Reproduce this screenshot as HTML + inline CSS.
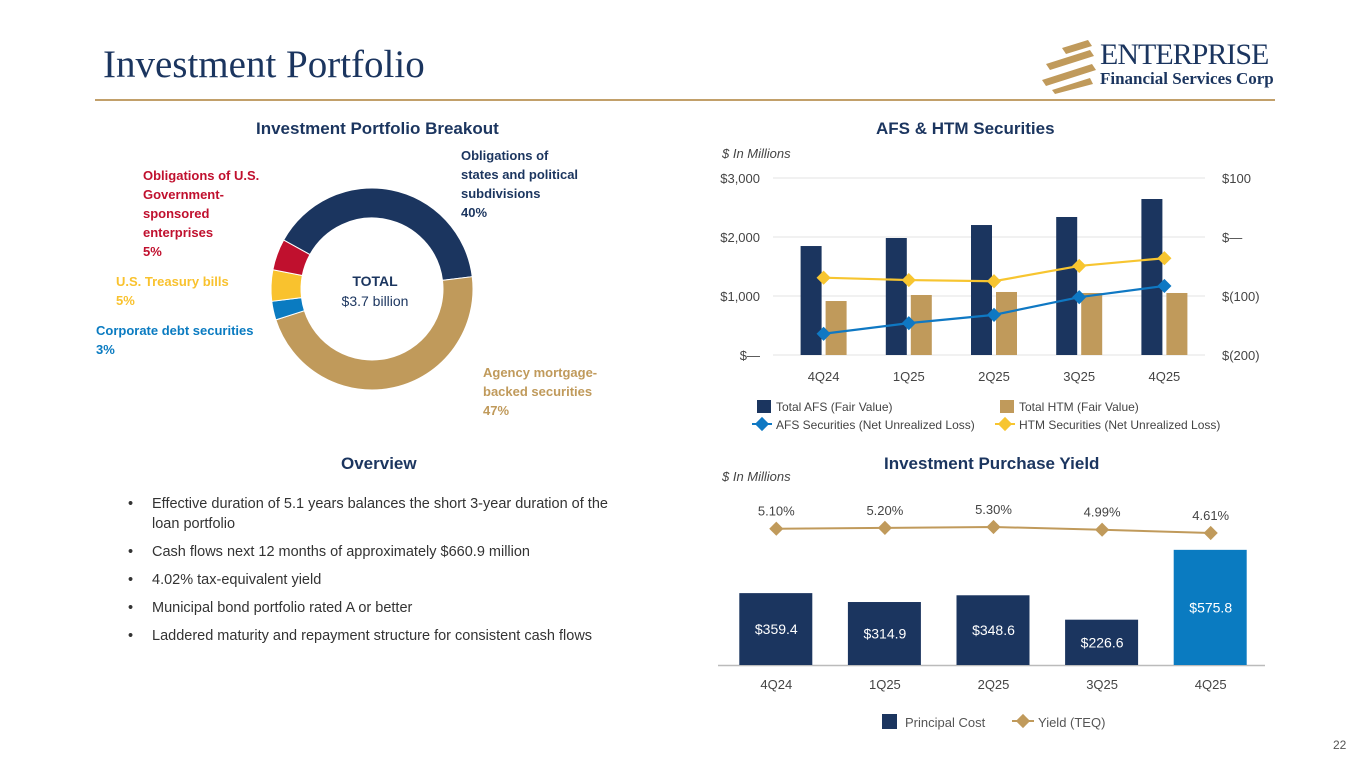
<!DOCTYPE html>
<html><head><meta charset="utf-8">
<style>
body{margin:0;width:1365px;height:768px;background:#fff;font-family:"Liberation Sans",sans-serif;overflow:hidden;position:relative}
.abs{position:absolute}
</style></head>
<body>
<div class="abs" style="left:103px;top:42px;font-family:'Liberation Serif',serif;font-size:39px;color:#1b355f">Investment Portfolio</div>
<div class="abs" style="left:95px;top:99px;width:1180px;height:2px;background:#c2a06a"></div>
<div class="abs" style="left:1040px;top:38px;width:240px;height:56px">
<svg width="60" height="56" style="position:absolute;left:0;top:0"><g fill="#c09a5b"><polygon points="22,10 48,2 52,8 26,16"/><polygon points="6,26 50,12 54,18 10,32"/><polygon points="2,42 52,26 56,32 6,48"/><polygon points="12,52 50,40 53,46 15,56"/></g></svg>
<div class="abs" style="left:60px;top:0;font-family:'Liberation Serif',serif;font-size:30px;color:#1b355f;letter-spacing:-1px">ENTERPRISE</div>
<div class="abs" style="left:60px;top:31px;font-family:'Liberation Serif',serif;font-size:17px;font-weight:bold;color:#1b355f">Financial Services Corp</div>
</div>

<div class="abs" style="left:256px;top:119px;font-size:17px;font-weight:bold;color:#1b355f">Investment Portfolio Breakout</div>
<div class="abs" style="left:876px;top:119px;font-size:17px;font-weight:bold;color:#1b355f">AFS &amp; HTM Securities</div>
<div class="abs" style="left:341px;top:454px;font-size:17px;font-weight:bold;color:#1b355f">Overview</div>
<div class="abs" style="left:884px;top:454px;font-size:17px;font-weight:bold;color:#1b355f">Investment Purchase Yield</div>

<svg id="donut" class="abs" style="left:0;top:130px" width="650" height="300"></svg>

<ul class="abs" style="left:128px;top:494px;width:505px;margin:0;padding:0;list-style:none;font-size:14.5px;color:#333;line-height:20px">
<li style="position:relative;padding-left:24px;margin-bottom:8px"><span style="position:absolute;left:0">•</span>Effective duration of 5.1 years balances the short 3-year duration of the<br>loan portfolio</li>
<li style="position:relative;padding-left:24px;margin-bottom:8px"><span style="position:absolute;left:0">•</span>Cash flows next 12 months of approximately $660.9 million</li>
<li style="position:relative;padding-left:24px;margin-bottom:8px"><span style="position:absolute;left:0">•</span>4.02% tax-equivalent yield</li>
<li style="position:relative;padding-left:24px;margin-bottom:8px"><span style="position:absolute;left:0">•</span>Municipal bond portfolio rated A or better</li>
<li style="position:relative;padding-left:24px;margin-bottom:8px;white-space:nowrap"><span style="position:absolute;left:0">•</span>Laddered maturity and repayment structure for consistent cash flows</li>
</ul>

<svg id="afs" class="abs" style="left:0;top:0" width="1365" height="768"></svg>
<div class="abs" style="left:1333px;top:738px;font-size:12px;color:#555">22</div>

<script>
const NS="http://www.w3.org/2000/svg";
function mk(p,tag,attrs,txt){const e=document.createElementNS(NS,tag);for(const k in attrs)e.setAttribute(k,attrs[k]);if(txt!=null)e.textContent=txt;p.appendChild(e);return e;}

// ---- Donut data ----
const donutLabels=["Obligations of states and political subdivisions","Agency mortgage-backed securities","Corporate debt securities","U.S. Treasury bills","Obligations of U.S. Government-sponsored enterprises"];
const donutValues=[40,47,3,5,5];
const donutColors=["#1b355f","#c09a5b","#0a7bc1","#f9c22e","#c0102e"];
const d=document.getElementById('donut');
{
 const cx=372,cy=159,R=101,r=71;let a=-61*Math.PI/180;const tot=donutValues.reduce((s,v)=>s+v,0);
 donutValues.forEach((v,i)=>{
  const a2=a+v/tot*2*Math.PI;const lg=(a2-a)>Math.PI?1:0;
  const p=(rr,ang)=>[cx+rr*Math.sin(ang),cy-rr*Math.cos(ang)];
  const [x1,y1]=p(R,a),[x2,y2]=p(R,a2),[x3,y3]=p(r,a2),[x4,y4]=p(r,a);
  const s=mk(d,'path',{d:`M${x1},${y1}A${R},${R} 0 ${lg} 1 ${x2},${y2}L${x3},${y3}A${r},${r} 0 ${lg} 0 ${x4},${y4}Z`,fill:donutColors[i],stroke:'#fff','stroke-width':1});
  
  
  a=a2;
 });
 const t1=mk(d,'text',{x:cx+3,y:cy-3,'text-anchor':'middle','font-size':14,'font-weight':'bold',fill:'#1b355f'},'TOTAL');
 
 const t2=mk(d,'text',{x:cx+3,y:cy+17,'text-anchor':'middle','font-size':14,fill:'#1b355f'},'$3.7 billion');
 
 const lab=[[461,30,["Obligations of","states and political","subdivisions","40%"],0],[483,247,["Agency mortgage-","backed securities","47%"],1],[96,205,["Corporate debt securities","3%"],2],[116,156,["U.S. Treasury bills","5%"],3],[143,50,["Obligations of U.S.","Government-","sponsored","enterprises","5%"],4]];
 lab.forEach(([x,y,lines,ci])=>{lines.forEach((ln,j)=>{const t=mk(d,'text',{x:x,y:y+j*19,'font-size':13,'font-weight':'bold',fill:donutColors[ci]},ln);});});
}

// ---- AFS & HTM data ----
const quarters=["4Q24","1Q25","2Q25","3Q25","4Q25"];
const afsFair=[1847,1983,2203,2339,2644];
const htmFair=[915,1017,1068,1051,1051];
const afsLoss=[-164,-146,-132,-102,-83];
const htmLoss=[-69,-73,-75,-49,-36];
const leftTicks=[0,1000,2000,3000];const leftTickLabels=["$—","$1,000","$2,000","$3,000"];
const rightTicks=[-200,-100,0,100];const rightTickLabels=["$(200)","$(100)","$—","$100"];
const svg=document.getElementById('afs');
{
 const top=178,bot=355,x0=781,step=85.2;
 const yL=v=>bot-v/3000*(bot-top);const yR=v=>bot-(v+200)/300*(bot-top);const xc=i=>x0+(i+0.5)*step;
 leftTicks.forEach((v,i)=>{const g=mk(svg,'line',{x1:773,x2:1205,y1:yL(v),y2:yL(v),stroke:'#e3e3e3','stroke-width':1});
  const t=mk(svg,'text',{x:760,y:yL(v)+5,'text-anchor':'end','font-size':13,fill:'#444'},leftTickLabels[i]);});
 rightTicks.forEach((v,i)=>{const t=mk(svg,'text',{x:1222,y:yR(v)+5,'font-size':13,fill:'#444'},rightTickLabels[i]);});
 const u=mk(svg,'text',{x:722,y:158,'font-size':13,'font-style':'italic',fill:'#444'},'$ In Millions');
 quarters.forEach((q,i)=>{
  const b1=mk(svg,'rect',{x:xc(i)-23,y:yL(afsFair[i]),width:21,height:bot-yL(afsFair[i]),fill:'#1b355f'});
  const b2=mk(svg,'rect',{x:xc(i)+2,y:yL(htmFair[i]),width:21,height:bot-yL(htmFair[i]),fill:'#c09a5b'});
  const t=mk(svg,'text',{x:xc(i),y:381,'text-anchor':'middle','font-size':13,fill:'#444'},q);
 });
 [[afsLoss,'#0f78c3','afs-loss'],[htmLoss,'#f7c530','htm-loss']].forEach(([arr,c,n])=>{
  const l=mk(svg,'polyline',{points:arr.map((v,i)=>xc(i)+','+yR(v)).join(' '),fill:'none',stroke:c,'stroke-width':2.2});
  arr.forEach((v,i)=>{const p=mk(svg,'rect',{x:-5,y:-5,width:10,height:10,fill:c,transform:`translate(${xc(i)},${yR(v)}) rotate(45)`});});
 });
 const leg=[[757,400,'rect','#1b355f','Total AFS (Fair Value)'],[1000,400,'rect','#c09a5b','Total HTM (Fair Value)'],[757,418,'line','#0f78c3','AFS Securities (Net Unrealized Loss)'],[1000,418,'line','#f7c530','HTM Securities (Net Unrealized Loss)']];
 leg.forEach(([x,y,k,c,txt])=>{
  if(k==='rect'){const r=mk(svg,'rect',{x:x,y:y,width:14,height:13,fill:c});}
  else{const l=mk(svg,'line',{x1:x-5,x2:x+15,y1:y+6,y2:y+6,stroke:c,'stroke-width':2});
   const p=mk(svg,'rect',{x:-5,y:-5,width:10,height:10,fill:c,transform:`translate(${x+5},${y+6}) rotate(45)`});}
  const t=mk(svg,'text',{x:x+19,y:y+11,'font-size':12,fill:'#444'},txt);
 });
}

// ---- Purchase yield data ----
const principal=[359.4,314.9,348.6,226.6,575.8];
const principalLabels=["$359.4","$314.9","$348.6","$226.6","$575.8"];
const yields=[5.10,5.20,5.30,4.99,4.61];
const yieldLabels=["5.10%","5.20%","5.30%","4.99%","4.61%"];
{
 const base=665,x0=722,step=108.6;const xc=i=>x0+(i+0.5)*step;
 const yB=v=>base-v*0.2;const yY=v=>527+(5.30-v)*8.7;
 const u=mk(svg,'text',{x:722,y:481,'font-size':13,'font-style':'italic',fill:'#444'},'$ In Millions');
 const ax=mk(svg,'line',{x1:718,x2:1265,y1:base+0.5,y2:base+0.5,stroke:'#bbb','stroke-width':1.5});
 quarters.forEach((q,i)=>{
  const c=i===4?'#0a7bc1':'#1b355f';
  const b=mk(svg,'rect',{x:xc(i)-37,y:yB(principal[i]),width:73,height:base-yB(principal[i]),fill:c});
  const lb=mk(svg,'text',{x:xc(i),y:(yB(principal[i])+base)/2+5,'text-anchor':'middle','font-size':14,fill:'#fff'},principalLabels[i]);
  const t=mk(svg,'text',{x:xc(i),y:689,'text-anchor':'middle','font-size':13,fill:'#444'},q);
  const yl=mk(svg,'text',{x:xc(i),y:yY(yields[i])-13,'text-anchor':'middle','font-size':13,fill:'#444'},yieldLabels[i]);
 });
 const l=mk(svg,'polyline',{points:yields.map((v,i)=>xc(i)+','+yY(v)).join(' '),fill:'none',stroke:'#c09a5b','stroke-width':2});
 yields.forEach((v,i)=>{const p=mk(svg,'rect',{x:-5,y:-5,width:10,height:10,fill:'#c09a5b',transform:`translate(${xc(i)},${yY(v)}) rotate(45)`});});
 const s=mk(svg,'rect',{x:882,y:714,width:15,height:15,fill:'#1b355f'});
 const t1=mk(svg,'text',{x:905,y:727,'font-size':13,fill:'#555'},'Principal Cost');
 const ll=mk(svg,'line',{x1:1012,x2:1034,y1:721,y2:721,stroke:'#c09a5b','stroke-width':2});
 const lm=mk(svg,'rect',{x:-5,y:-5,width:10,height:10,fill:'#c09a5b',transform:'translate(1023,721) rotate(45)'});
 const t2=mk(svg,'text',{x:1038,y:727,'font-size':13,fill:'#555'},'Yield (TEQ)');
}
</script>
</body></html>
